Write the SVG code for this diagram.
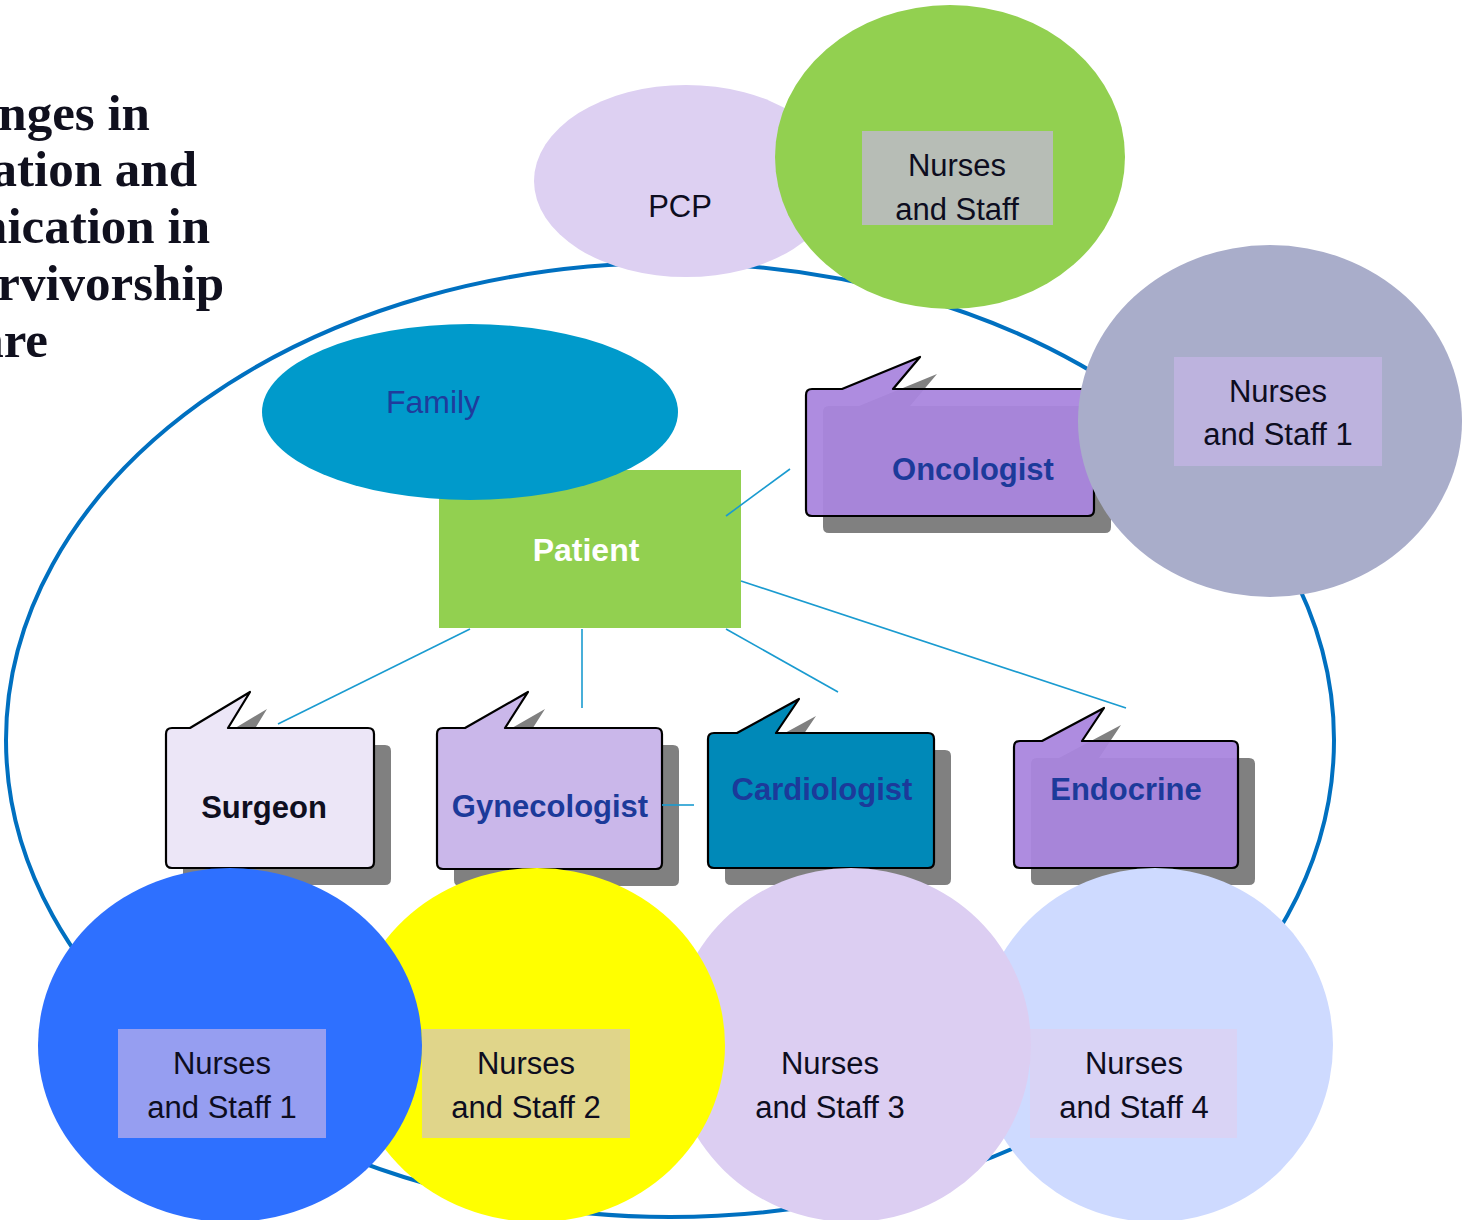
<svg xmlns="http://www.w3.org/2000/svg" width="1462" height="1220" viewBox="0 0 1462 1220">
<style>
.title{font-family:"Liberation Serif",serif;font-weight:bold;font-size:51px;fill:#10101e;text-anchor:end}
.nt{font-family:"Liberation Sans",Arial,sans-serif;font-size:31px;fill:#0d0d1f;text-anchor:middle}
.bt{font-family:"Liberation Sans",Arial,sans-serif;font-size:31px;font-weight:bold;fill:#1c3a9a;text-anchor:middle}
.box{stroke:#000;stroke-width:2.2;stroke-linejoin:round}
.shadow{fill:#808080}
.conn line{stroke:#1a9bd0;stroke-width:1.6}
</style>
<g id="title">
<text class="title" x="150" y="130">Challenges in</text>
<text class="title" x="197" y="186">Coordination and</text>
<text class="title" x="210" y="243">Communication in</text>
<text class="title" x="224" y="300">Survivorship</text>
<text class="title" x="48" y="357">Care</text>
</g>
<g id="outer">
<ellipse cx="670" cy="740" rx="664" ry="477" fill="none" stroke="#0070c0" stroke-width="4"/>
</g>
<g id="pcp">
<ellipse cx="686" cy="181" rx="152" ry="96" fill="#ddd0f2"/>
<text class="nt" x="680" y="217">PCP</text>
</g>
<g id="nurses-top">
<ellipse cx="950" cy="157" rx="175" ry="152" fill="#92d050"/>
<rect x="862" y="131" width="191" height="94" fill="#b7bdb6"/>
<text class="nt" x="957" y="176">Nurses</text>
<text class="nt" x="957" y="220">and Staff</text>
</g>
<g id="oncologist">
<path class="shadow" transform="translate(17,17)" d="M812,389 H842 L920,357 L893,389 H1088 Q1094,389 1094,395 V510 Q1094,516 1088,516 H812 Q806,516 806,510 V395 Q806,389 812,389Z"/>
<path class="box" fill="#a985de" fill-opacity="0.94" d="M812,389 H842 L920,357 L893,389 H1088 Q1094,389 1094,395 V510 Q1094,516 1088,516 H812 Q806,516 806,510 V395 Q806,389 812,389Z"/>
<text class="bt" x="973" y="480">Oncologist</text>
</g>
<g id="nurses-right">
<ellipse cx="1270" cy="421" rx="192" ry="176" fill="#a9adca"/>
<rect x="1174" y="357" width="208" height="109" fill="#bdb3de"/>
<text class="nt" x="1278" y="402">Nurses</text>
<text class="nt" x="1278" y="445">and Staff 1</text>
</g>
<g id="patient">
<rect x="439" y="470" width="302" height="158" fill="#92d050"/>
<text class="bt" x="586" y="561" style="fill:#ffffff;font-size:32px">Patient</text>
</g>
<g id="family">
<ellipse cx="470" cy="412" rx="208" ry="88" fill="#009acb"/>
<text class="nt" x="433" y="413" style="fill:#1f3c9c;font-size:32px">Family</text>
</g>
<g id="surgeon">
<path class="shadow" transform="translate(17,17)" d="M172,728 H190 L250,692 L228,728 H368 Q374,728 374,734 V862 Q374,868 368,868 H172 Q166,868 166,862 V734 Q166,728 172,728Z"/>
<path class="box" fill="#ece6f7" d="M172,728 H190 L250,692 L228,728 H368 Q374,728 374,734 V862 Q374,868 368,868 H172 Q166,868 166,862 V734 Q166,728 172,728Z"/>
<text class="bt" x="264" y="818" style="fill:#0f0f1f">Surgeon</text>
</g>
<g id="gynecologist">
<path class="shadow" transform="translate(17,17)" d="M443,728 H465 L528,692 L505,728 H656 Q662,728 662,734 V863 Q662,869 656,869 H443 Q437,869 437,863 V734 Q437,728 443,728Z"/>
<path class="box" fill="#cab7ea" d="M443,728 H465 L528,692 L505,728 H656 Q662,728 662,734 V863 Q662,869 656,869 H443 Q437,869 437,863 V734 Q437,728 443,728Z"/>
<text class="bt" x="550" y="817">Gynecologist</text>
</g>
<g id="cardiologist">
<path class="shadow" transform="translate(17,17)" d="M714,733 H737 L799,699 L776,733 H928 Q934,733 934,739 V862 Q934,868 928,868 H714 Q708,868 708,862 V739 Q708,733 714,733Z"/>
<path class="box" fill="#0089b8" d="M714,733 H737 L799,699 L776,733 H928 Q934,733 934,739 V862 Q934,868 928,868 H714 Q708,868 708,862 V739 Q708,733 714,733Z"/>
<text class="bt" x="822" y="800">Cardiologist</text>
</g>
<g id="endocrine">
<path class="shadow" transform="translate(17,17)" d="M1020,741 H1042 L1104,708 L1082,741 H1232 Q1238,741 1238,747 V862 Q1238,868 1232,868 H1020 Q1014,868 1014,862 V747 Q1014,741 1020,741Z"/>
<path class="box" fill="#a985de" fill-opacity="0.94" d="M1020,741 H1042 L1104,708 L1082,741 H1232 Q1238,741 1238,747 V862 Q1238,868 1232,868 H1020 Q1014,868 1014,862 V747 Q1014,741 1020,741Z"/>
<text class="bt" x="1126" y="800">Endocrine</text>
</g>
<g id="nurses-4">
<ellipse cx="1155" cy="1045" rx="178" ry="177" fill="#cedaff"/>
<rect x="1030" y="1029" width="207" height="109" fill="#d9d3f5"/>
<text class="nt" x="1134" y="1074">Nurses</text>
<text class="nt" x="1134" y="1118">and Staff 4</text>
</g>
<g id="nurses-3">
<ellipse cx="851" cy="1045" rx="180" ry="177" fill="#dccef2"/>
<text class="nt" x="830" y="1074">Nurses</text>
<text class="nt" x="830" y="1118">and Staff 3</text>
</g>
<g id="nurses-2">
<ellipse cx="537" cy="1045" rx="188" ry="177" fill="#ffff00"/>
<rect x="422" y="1029" width="208" height="109" fill="#e0d58a"/>
<text class="nt" x="526" y="1074">Nurses</text>
<text class="nt" x="526" y="1118">and Staff 2</text>
</g>
<g id="nurses-1">
<ellipse cx="230" cy="1045" rx="192" ry="177" fill="#2e70ff"/>
<rect x="118" y="1029" width="208" height="109" fill="#969ef1"/>
<text class="nt" x="222" y="1074">Nurses</text>
<text class="nt" x="222" y="1118">and Staff 1</text>
</g>
<g id="connectors" class="conn">
<line x1="726" y1="516" x2="790" y2="469"/>
<line x1="741" y1="581" x2="1126" y2="708"/>
<line x1="470" y1="629" x2="278" y2="724"/>
<line x1="582" y1="629" x2="582" y2="708"/>
<line x1="726" y1="629" x2="838" y2="692"/>
<line x1="662" y1="805" x2="694" y2="805"/>
</g>
</svg>
